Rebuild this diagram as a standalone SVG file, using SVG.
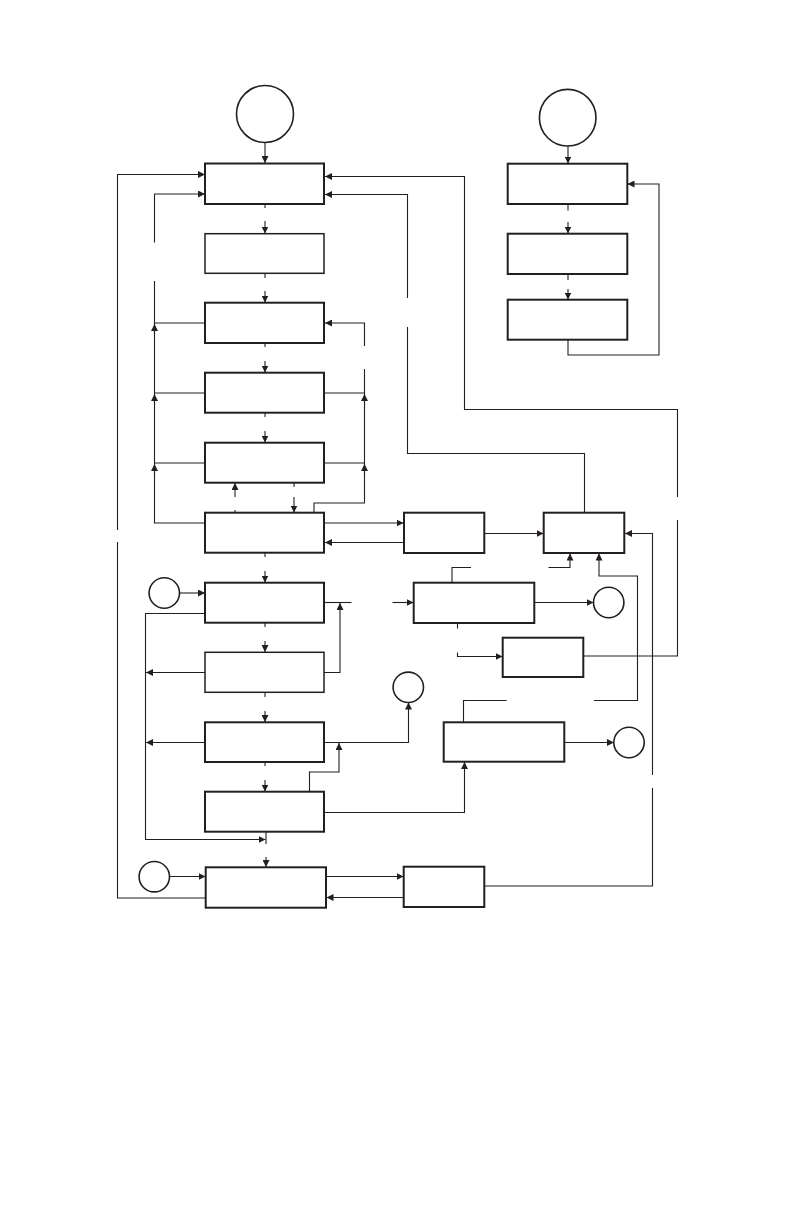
<svg xmlns="http://www.w3.org/2000/svg" width="792" height="1224" viewBox="0 0 792 1224">
<defs>
<marker id="ah" viewBox="0 0 10 10" refX="10" refY="5" markerWidth="7" markerHeight="7" markerUnits="userSpaceOnUse" orient="auto">
<path d="M0,0 L10,5 L0,10 z" fill="#231f20"/>
</marker>
</defs>
<style>
.box{fill:#fff;stroke:#231f20;stroke-width:2}
.thin{stroke-width:1.5}
.circ{fill:#fff;stroke:#231f20;stroke-width:1.6}
.ln{fill:none;stroke:#231f20;stroke-width:1.1}
.ar{fill:none;stroke:#231f20;stroke-width:1.1;marker-end:url(#ah)}
</style>
<rect width="792" height="1224" fill="#fff"/>
<g id="connectors">
<!-- start to A -->
<path class="ar" d="M265,143 V163"/>
<!-- vertical chain stubs and arrows -->
<path class="ln" d="M265,204 V208"/><path class="ar" d="M265,221 V233.5"/>
<path class="ln" d="M265,273.5 V278"/><path class="ar" d="M265,291 V302.5"/>
<path class="ln" d="M265,343 V347"/><path class="ar" d="M265,361 V372.5"/>
<path class="ln" d="M265,413 V417"/><path class="ar" d="M265,431 V442.5"/>
<path class="ln" d="M265,553 V557"/><path class="ar" d="M265,571 V582.5"/>
<path class="ln" d="M265,623 V627"/><path class="ar" d="M265,641 V652"/>
<path class="ln" d="M265,692.5 V697"/><path class="ar" d="M265,711 V722"/>
<path class="ln" d="M265,762 V766"/><path class="ar" d="M265,780 V791.5"/>
<path class="ln" d="M266,832 V844"/><path class="ar" d="M266,857 V867"/>
<!-- E<->F -->
<path class="ln" d="M294,483 V487"/><path class="ar" d="M294,497 V512.5"/>
<path class="ln" d="M235,510 V512.5"/><path class="ar" d="M235,497 V483"/>
<!-- right column -->
<path class="ar" d="M568,146 V163.5"/>
<path class="ln" d="M568,204 V210.5"/><path class="ar" d="M568,222 V233.5"/>
<path class="ln" d="M568,274 V280"/><path class="ar" d="M568,289 V299.5"/>
<path class="ar" d="M568,340 V355 H659 V184 H627.5"/>
<!-- long left loop K -> A -->
<path class="ln" d="M205.5,898 H117.5 V542"/>
<path class="ar" d="M117.5,530 V174.5 H205"/>
<!-- left loop C,D,E,F -> A -->
<path class="ln" d="M205,523 H154.5 V281"/>
<path class="ar" d="M154.5,242.5 V194 H205"/>
<path class="ln" d="M205,323 H154.5"/>
<path class="ln" d="M205,393 H154.5"/>
<path class="ln" d="M205,463 H154.5"/>
<path class="ar" d="M154.5,335 V324"/>
<path class="ar" d="M154.5,405 V394"/>
<path class="ar" d="M154.5,475 V464"/>
<!-- right loop D,E,F -> C -->
<path class="ln" d="M314,512.5 V503 H364.5 V369"/>
<path class="ar" d="M364.5,346 V323 H325"/>
<path class="ln" d="M324,393 H364.5"/>
<path class="ln" d="M324,463 H364.5"/>
<path class="ar" d="M364.5,405 V394"/>
<path class="ar" d="M364.5,475 V464"/>
<!-- P -> A -->
<path class="ln" d="M583.5,656 H677.5 V520"/>
<path class="ar" d="M677.5,497 V409.5 H464.5 V176.5 H325"/>
<!-- Q -> A -->
<path class="ln" d="M584.5,512.5 V453.5 H407.5 V327"/>
<path class="ar" d="M407.5,298 V194.5 H325"/>
<!-- F <-> M -->
<path class="ar" d="M324,523 H403.5"/>
<path class="ar" d="M404,542.5 H325"/>
<!-- M -> Q -->
<path class="ar" d="M484.5,533.5 H543.5"/>
<!-- N -> Q -->
<path class="ln" d="M452,582.5 V567.5 H471"/>
<path class="ar" d="M548.5,567.5 H570 V553.5"/>
<!-- O -> Q -->
<path class="ln" d="M463.5,722 V700.5 H506.5"/>
<path class="ar" d="M594,700.5 H637.5 V576 H599 V553.5"/>
<!-- L -> Q -->
<path class="ln" d="M484.5,886 H652.5 V788"/>
<path class="ar" d="M652.5,775 V533.5 H625"/>
<!-- G -> N ; H -> junction -->
<path class="ln" d="M324,602.5 H351.5"/>
<path class="ar" d="M392.5,602.5 H413.5"/>
<path class="ar" d="M324,672.5 H340 V603"/>
<!-- N -> circle, N -> P -->
<path class="ar" d="M534.5,602.5 H593.5"/>
<path class="ln" d="M457.5,623 V628.5"/>
<path class="ar" d="M457.5,652.5 V656.5 H502.5"/>
<!-- G left, H left, I left -> bottom -->
<path class="ar" d="M205,613.5 H145.5 V839.5 H265.5"/>
<path class="ar" d="M205,672.5 H146"/>
<path class="ar" d="M205,742.5 H146"/>
<!-- I -> circle, J -> junction -->
<path class="ar" d="M324,742.5 H408.5 V702.5"/>
<path class="ar" d="M309.5,791.5 V772 H339 V743"/>
<!-- J -> O -->
<path class="ar" d="M324,812.5 H464.5 V762"/>
<!-- O -> circle -->
<path class="ar" d="M564.5,742.5 H614"/>
<!-- circles -> G, K -->
<path class="ar" d="M179.5,593 H205"/>
<path class="ar" d="M169.5,876.5 H205.5"/>
<!-- K <-> L -->
<path class="ar" d="M326,876.5 H403.5"/>
<path class="ar" d="M403.5,897.5 H326.5"/>
</g>
<g id="startA"><circle class="circ" cx="265" cy="114" r="28.5"/></g>
<g id="startB"><circle class="circ" cx="567.7" cy="117.7" r="28.3"/></g>
<g id="boxA"><rect class="box" x="205" y="163.5" width="119" height="40.5"/></g>
<g id="boxB"><rect class="box thin" x="205" y="233.7" width="119" height="39.6"/></g>
<g id="boxC"><rect class="box" x="205" y="302.7" width="119" height="40.3"/></g>
<g id="boxD"><rect class="box" x="205" y="372.7" width="119" height="40"/></g>
<g id="boxE"><rect class="box" x="205" y="442.7" width="119" height="40"/></g>
<g id="boxF"><rect class="box" x="205" y="512.7" width="119" height="40"/></g>
<g id="boxG"><rect class="box" x="205" y="582.7" width="119" height="40"/></g>
<g id="boxH"><rect class="box thin" x="205" y="652.3" width="119" height="40"/></g>
<g id="boxI"><rect class="box" x="205" y="722.3" width="119" height="39.7"/></g>
<g id="boxJ"><rect class="box" x="205" y="791.7" width="119" height="40"/></g>
<g id="boxK"><rect class="box" x="205.7" y="867.3" width="120.3" height="40.4"/></g>
<g id="boxR1"><rect class="box" x="507.7" y="163.7" width="119.6" height="40.3"/></g>
<g id="boxR2"><rect class="box" x="507.7" y="233.7" width="119.6" height="40.3"/></g>
<g id="boxR3"><rect class="box" x="507.7" y="299.7" width="119.6" height="40"/></g>
<g id="boxM"><rect class="box" x="404" y="512.7" width="80.3" height="40.3"/></g>
<g id="boxQ"><rect class="box" x="543.7" y="512.7" width="80.6" height="40.3"/></g>
<g id="boxN"><rect class="box" x="413.7" y="582.7" width="120.6" height="40.3"/></g>
<g id="boxP"><rect class="box" x="502.7" y="637.7" width="80.6" height="39.3"/></g>
<g id="boxO"><rect class="box" x="443.7" y="722.3" width="120.6" height="39.4"/></g>
<g id="boxL"><rect class="box" x="403.7" y="866.7" width="80.6" height="40.3"/></g>
<g id="circleG"><circle class="circ" cx="164.3" cy="593" r="15.2"/></g>
<g id="circleK"><circle class="circ" cx="154.3" cy="876.7" r="15.2"/></g>
<g id="circleN"><circle class="circ" cx="608.7" cy="602.5" r="15.2"/></g>
<g id="circleI"><circle class="circ" cx="408.3" cy="687.3" r="15.2"/></g>
<g id="circleO"><circle class="circ" cx="629" cy="742.5" r="15.2"/></g>
</svg>
